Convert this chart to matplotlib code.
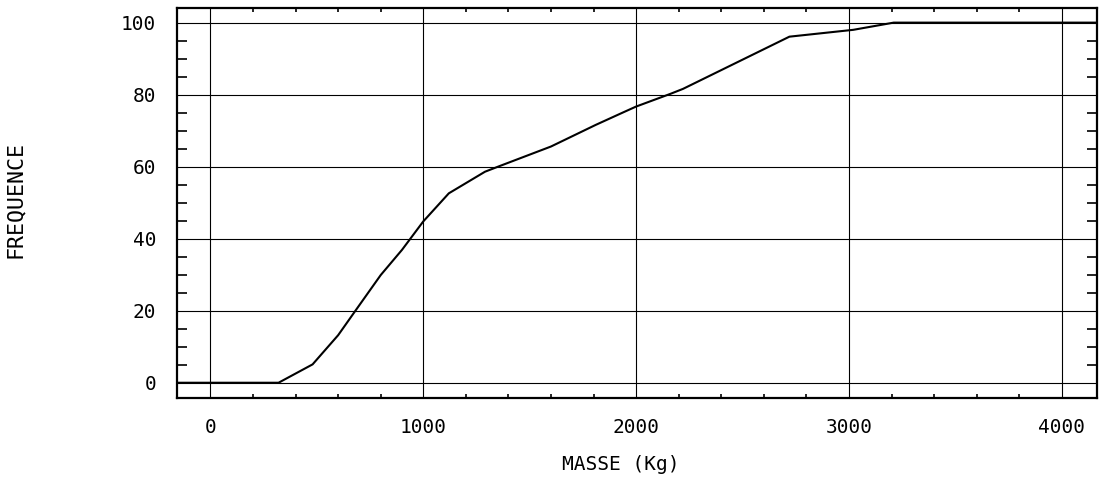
import numpy as np
import matplotlib
matplotlib.use('Agg')
import matplotlib.pyplot as plt
from matplotlib.ticker import MultipleLocator

# Courbe de fréquence cumulée en fonction de la masse
masse = [-157, 320, 480, 600, 680, 800, 900, 1000, 1120, 1290, 1360, 1600,
         1810, 1940, 2000, 2160, 2220, 2720, 3020, 3210, 4165]
frequence = [0, 0, 5.1, 13.2, 19.9, 29.9, 36.9, 44.8, 52.6, 58.6, 60.2, 65.6,
             71.6, 75.1, 76.7, 80.2, 81.6, 96.1, 98.0, 100, 100]

x_ticks = [0, 1000, 2000, 3000, 4000]
y_ticks = [0, 20, 40, 60, 80, 100]

police = 'DejaVu Sans Mono'

fig = plt.figure(figsize=(10.99, 4.93), dpi=100)
ax = fig.add_axes([177 / 1099, 1 - 397.5 / 493, 920 / 1099, 390 / 493])

ax.plot(masse, frequence, color='black', lw=1.5, solid_joinstyle='miter', zorder=3)

ax.set_xlim(-157, 4165)
ax.set_ylim(-4.1, 104.2)
ax.set_xticks(x_ticks)
ax.set_yticks(y_ticks)
ax.xaxis.set_minor_locator(MultipleLocator(200))
ax.yaxis.set_minor_locator(MultipleLocator(5))
ax.grid(True, which='major', color='black', lw=0.8)

ax.tick_params(which='major', length=0, pad=15, labelsize=14)
ax.tick_params(axis='x', which='minor', direction='in', length=3, width=1.2,
               top=True, bottom=True)
ax.tick_params(axis='y', which='minor', direction='in', length=7.5, width=1.2,
               left=True, right=True)
for lab in ax.get_xticklabels() + ax.get_yticklabels():
    lab.set_family(police)

for s in ax.spines.values():
    s.set_linewidth(1.6)

fig.text(15 / 1099, 1 - 199 / 493, 'FREQUENCE', rotation=90, family=police,
         fontsize=15.5, ha='center', va='center')
fig.text(621 / 1099, 1 - 465 / 493, 'MASSE (Kg)', family=police,
         fontsize=14, ha='center', va='center')

fig.savefig('out.png', dpi=100)
